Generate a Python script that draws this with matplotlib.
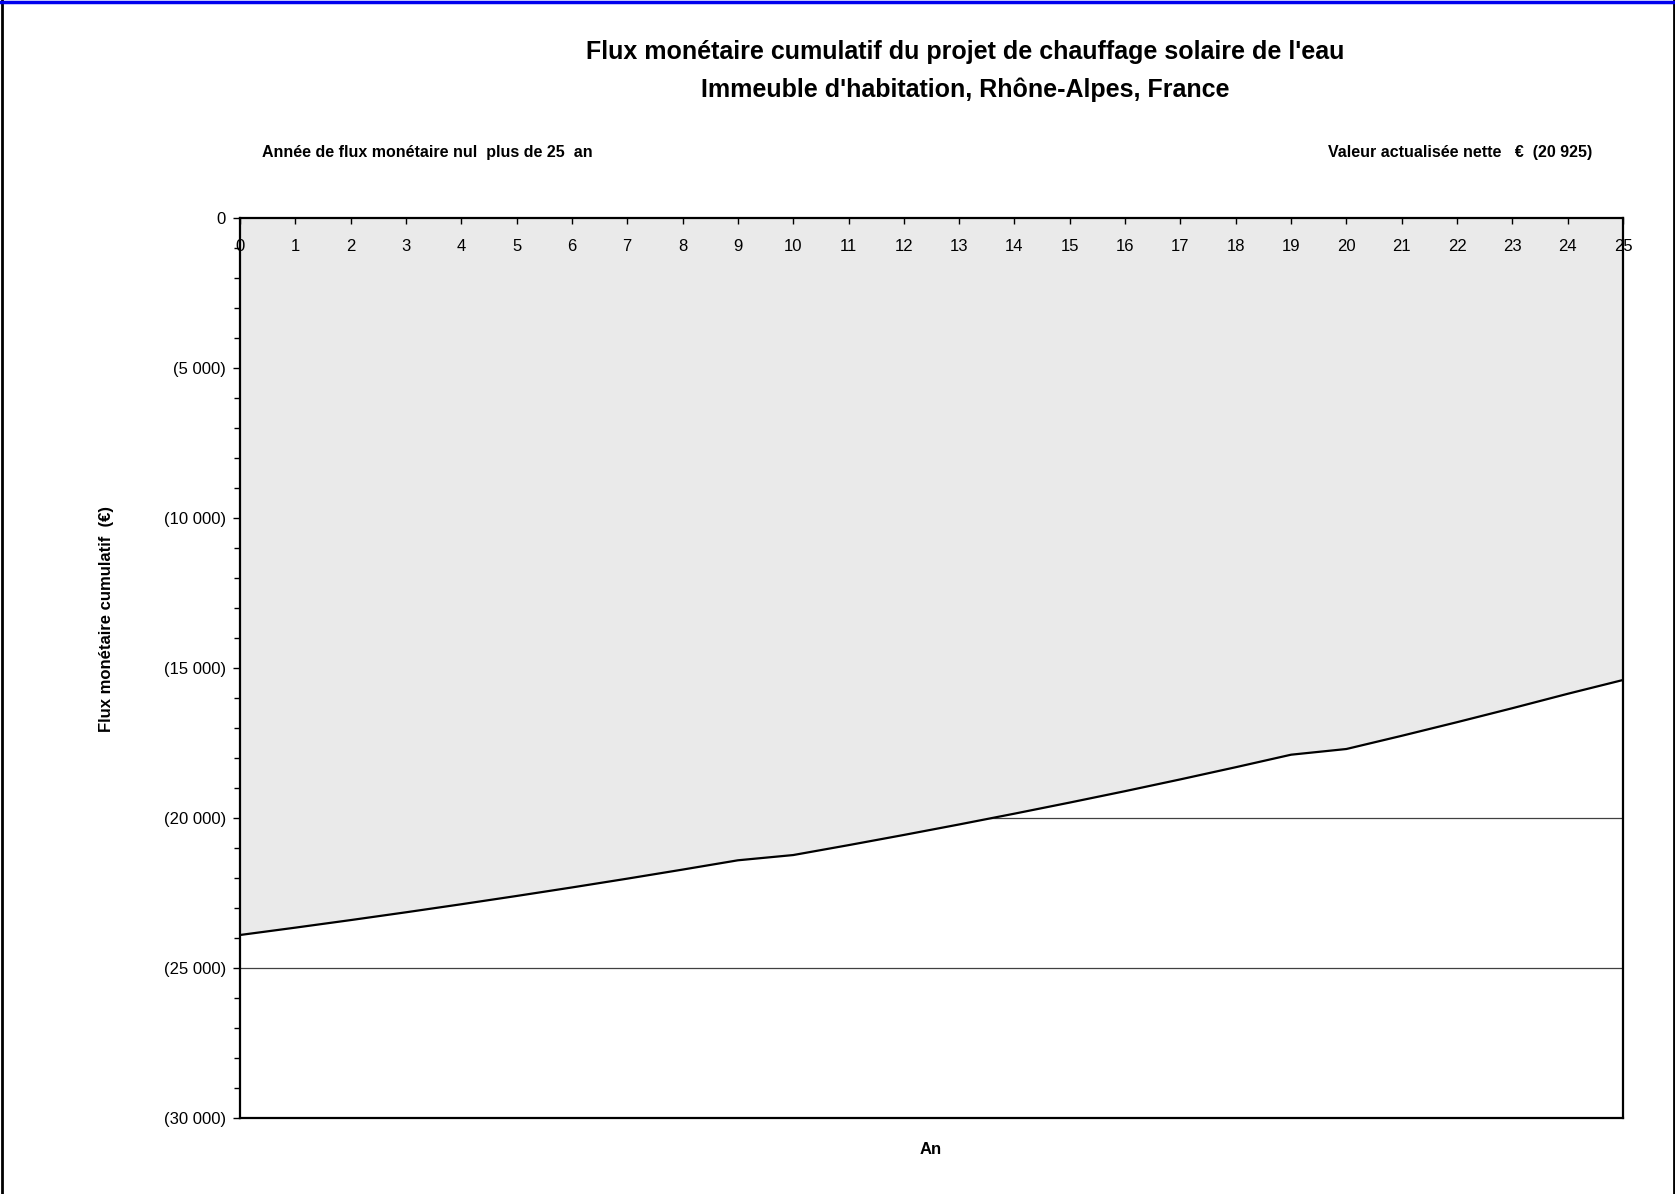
import matplotlib
matplotlib.use("Agg")
import matplotlib.pyplot as plt
from matplotlib.ticker import MultipleLocator, FuncFormatter
from matplotlib.lines import Line2D

plt.rcParams['font.family'] = ['Liberation Sans Narrow', 'Liberation Sans', 'DejaVu Sans']

# Cumulative cash flow per year (EUR)
years = list(range(0, 26))
cumulative_cash_flow = [
    -23900, -23655, -23403, -23143, -22875, -22599, -22315, -22022, -21720,
    -21410, -21235, -20905, -20565, -20215, -19855, -19485, -19105, -18712,
    -18307, -17890, -17700, -17260, -16806, -16340, -15860, -15400,
]
x_tick_labels = [str(y) for y in years]

title_line1 = "Flux monétaire cumulatif du projet de chauffage solaire de l'eau"
title_line2 = "Immeuble d'habitation, Rhône-Alpes, France"
payback_text = "Année de flux monétaire nul  plus de 25  an"
npv_text = "Valeur actualisée nette   €  (20 925)"
y_label = "Flux monétaire cumulatif  (€)"
x_label = "An"

W, H = 1675, 1194
fig = plt.figure(figsize=(W / 100, H / 100), dpi=100)
ax = fig.add_axes([240 / W, 1 - 1118 / H, 1383 / W, 900 / H])

ax.set_xlim(0, 25)
ax.set_ylim(-30000, 0)
ax.set_axisbelow(False)

ax.yaxis.set_major_locator(MultipleLocator(5000))
ax.yaxis.set_minor_locator(MultipleLocator(1000))

# Horizontal gridlines sit underneath the shaded area
for v in ax.get_yticks():
    if -30000 < v < 0:
        ax.axhline(v, color='#404040', linewidth=0.9, zorder=1)

ax.fill_between(years, cumulative_cash_flow, 0, color='#EAEAEA', linewidth=0, zorder=2)
ax.plot(years, cumulative_cash_flow, color='black', linewidth=1.6, zorder=3)

for s in ax.spines.values():
    s.set_linewidth(1.6)
    s.set_color('black')
    s.set_zorder(4)

ax.set_xticks(years)
ax.set_xticklabels(x_tick_labels)
ax.tick_params(axis='x', which='both', bottom=False, top=True, labelbottom=False,
               labeltop=True, direction='in', length=4, width=1, pad=-26,
               labelsize=12, colors='black')


def fmt(v, pos):
    v = int(round(v))
    if v == 0:
        return "0"
    s = f"{abs(v):,}".replace(",", " ")
    return f"({s})" if v < 0 else s


ax.yaxis.set_major_formatter(FuncFormatter(fmt))
ax.tick_params(axis='y', which='major', direction='out', length=5, width=1,
               labelsize=12, pad=5)
ax.tick_params(axis='y', which='minor', direction='out', length=4, width=1)

# Titles and annotations
fig.text(965 / W, 1 - 52 / H, title_line1, ha='center', va='center',
         fontsize=18, fontweight='bold')
fig.text(965 / W, 1 - 90 / H, title_line2, ha='center', va='center',
         fontsize=18, fontweight='bold')
fig.text(262 / W, 1 - 153 / H, payback_text, ha='left', va='center',
         fontsize=11.5, fontweight='bold')
fig.text(1592 / W, 1 - 153 / H, npv_text, ha='right', va='center',
         fontsize=11.5, fontweight='bold')
fig.text(106 / W, 1 - 619 / H, y_label, ha='center', va='center',
         rotation=90, fontsize=12, fontweight='bold')
fig.text(931 / W, 1 - 1150 / H, x_label, ha='center', va='center',
         fontsize=12, fontweight='bold')

# Frame around the figure
fig.add_artist(Line2D([1.5 / W, 1.5 / W], [0, 1], transform=fig.transFigure,
                      color='black', linewidth=2))
fig.add_artist(Line2D([1 - 1.5 / W, 1 - 1.5 / W], [0, 1], transform=fig.transFigure,
                      color='black', linewidth=2))
fig.add_artist(Line2D([0, 1], [1 - 1.5 / H, 1 - 1.5 / H], transform=fig.transFigure,
                      color='#0000EE', linewidth=2.5))

fig.savefig("out.png", dpi=100)
